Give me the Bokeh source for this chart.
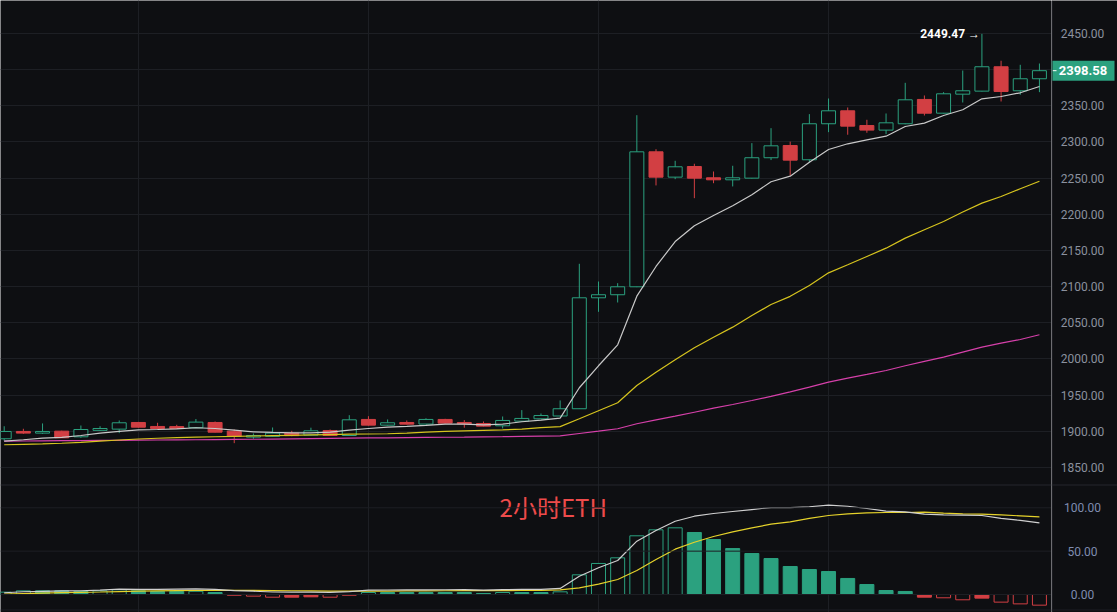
import numpy as np
from bokeh.plotting import figure
from bokeh.layouts import row
from bokeh.models import ColumnDataSource, FixedTicker, Span, Grid, Range1d
from bokeh.core.properties import value
from bokeh.embed import file_html
from bokeh.resources import INLINE

# ---------------- data (2h ETH candles) ----------------
opens = [1889.7, 1899.8, 1897.5, 1900.2, 1892.4, 1901.3, 1903.0, 1912.2, 1906.7, 1906.5,
         1905.0, 1912.2, 1900.2, 1892.0, 1893.0, 1897.5, 1894.7, 1901.0, 1894.2, 1916.4,
         1908.5, 1912.2, 1910.0, 1916.4, 1912.2, 1910.8, 1907.6, 1914.1, 1917.3, 1921.2,
         1931.2, 2084.6, 2088.8, 2099.8, 2286.4, 2251.4, 2266.1, 2250.5, 2247.7, 2250.0,
         2278.2, 2295.1, 2275.4, 2325.2, 2343.1, 2322.8, 2316.4, 2325.2, 2358.8, 2339.8,
         2366.1, 2370.3, 2404.0, 2370.8, 2387.4]
highs = [1907.0, 1903.5, 1910.9, 1900.8, 1908.0, 1907.0, 1915.0, 1913.0, 1911.8, 1909.0,
         1917.0, 1913.6, 1902.5, 1897.0, 1905.3, 1900.7, 1905.0, 1902.5, 1922.3, 1920.9,
         1916.4, 1915.0, 1918.0, 1917.3, 1915.5, 1913.6, 1920.5, 1929.3, 1924.6, 1942.7,
         2131.6, 2107.1, 2104.8, 2337.0, 2290.0, 2274.0, 2269.9, 2259.2, 2267.1, 2298.4,
         2319.1, 2300.5, 2338.5, 2360.1, 2347.7, 2330.7, 2339.4, 2381.8, 2364.3, 2368.9,
         2398.8, 2449.47, 2412.3, 2406.7, 2408.5]
lows = [1887.0, 1896.5, 1896.5, 1890.8, 1891.0, 1900.8, 1897.5, 1905.0, 1903.5, 1903.5,
        1904.5, 1898.5, 1883.6, 1889.7, 1892.5, 1893.2, 1894.2, 1893.8, 1893.8, 1908.0,
        1908.0, 1909.5, 1909.5, 1910.8, 1905.0, 1906.7, 1904.0, 1913.6, 1916.9, 1920.9,
        1930.8, 2065.2, 2078.1, 2099.3, 2239.9, 2248.6, 2222.3, 2243.0, 2238.5, 2249.5,
        2275.0, 2253.5, 2272.0, 2313.6, 2310.0, 2312.7, 2310.8, 2324.5, 2336.6, 2339.3,
        2354.6, 2369.8, 2356.0, 2365.3, 2368.9]
closes = [1899.8, 1897.5, 1899.8, 1891.0, 1902.5, 1903.9, 1911.8, 1905.7, 1903.9, 1904.0,
          1912.7, 1898.8, 1893.0, 1894.2, 1897.5, 1894.0, 1900.7, 1894.2, 1915.9, 1908.5,
          1911.8, 1909.9, 1916.4, 1911.3, 1910.4, 1907.1, 1915.0, 1917.8, 1921.8, 1931.2,
          2084.6, 2088.8, 2099.8, 2286.4, 2251.4, 2265.7, 2250.0, 2247.7, 2250.5, 2278.2,
          2294.7, 2274.9, 2325.2, 2343.1, 2321.9, 2316.4, 2326.5, 2358.3, 2339.8, 2366.6,
          2370.8, 2404.0, 2369.8, 2387.4, 2398.58]

ma_fast = [1886.4, 1888.3, 1890.5, 1891.5, 1894.2, 1897.5, 1899.8, 1902.1, 1902.5, 1903.5,
           1904.9, 1903.9, 1901.6, 1899.3, 1898.4, 1897.9, 1897.9, 1898.8, 1901.6, 1903.9,
           1905.8, 1906.7, 1908.1, 1909.9, 1909.9, 1909.0, 1909.9, 1913.2, 1915.5, 1918.3,
           1960.2, 1990.6, 2019.6, 2086.8, 2127.9, 2162.4, 2184.2, 2198.4, 2211.8, 2227.0,
           2245.0, 2252.7, 2272.0, 2289.6, 2297.5, 2303.0, 2308.0, 2321.4, 2326.0, 2336.6,
           2344.5, 2359.7, 2362.9, 2368.0, 2376.7]
ma_mid = [1881.4, 1882.0, 1882.6, 1883.5, 1884.8, 1886.4, 1888.0, 1889.4, 1890.4, 1891.3,
          1892.0, 1892.5, 1893.0, 1893.5, 1894.0, 1894.5, 1895.0, 1895.5, 1896.0, 1896.3,
          1896.6, 1897.6, 1898.8, 1899.8, 1900.7, 1901.4, 1902.1, 1903.0, 1905.0, 1906.5,
          1917.3, 1928.4, 1939.5, 1963.4, 1981.8, 1998.9, 2015.5, 2030.1, 2044.0, 2060.1,
          2075.3, 2086.6, 2101.6, 2119.1, 2130.2, 2141.7, 2153.2, 2167.1, 2178.6, 2190.1,
          2203.1, 2215.5, 2224.7, 2235.3, 2245.8]
ma_slow = [1886.4, 1886.6, 1886.8, 1887.0, 1887.2, 1887.4, 1887.6, 1887.8, 1888.0, 1888.2,
           1888.3, 1888.5, 1888.8, 1889.0, 1889.3, 1889.6, 1889.9, 1890.2, 1890.5, 1890.8,
           1891.0, 1891.3, 1891.5, 1891.8, 1892.0, 1892.3, 1892.6, 1893.0, 1893.4, 1893.8,
           1897.0, 1900.2, 1903.5, 1910.4, 1915.9, 1920.9, 1926.4, 1932.0, 1937.1, 1942.6,
           1948.2, 1954.5, 1961.0, 1968.0, 1973.5, 1978.6, 1984.1, 1990.6, 1996.6, 2002.5,
           2009.4, 2016.3, 2021.8, 2026.9, 2033.5]

macd_hist = [2.7, 4.2, 4.2, 4.2, 3.5, 4.2, 5.4, 4.2, 3.5, 3.5,
             3.7, 2.3, -0.8, -1.9, -3.1, -3.1, -2.7, -3.1, -0.8, 2.3,
             2.3, 2.3, 2.3, 2.3, 2.3, 1.2, 2.3, 2.3, 2.3, 3.1,
             22.7, 35.8, 42.3, 67.7, 74.6, 76.9, 71.5, 63.4, 53.0, 47.3,
             41.5, 32.3, 28.8, 26.5, 18.5, 11.5, 4.6, 3.5, -3.1, -3.8,
             -6.1, -4.2, -8.8, -10.8, -12.3]
macd_dif = [2.0, 3.2, 3.7, 4.2, 4.3, 5.0, 6.1, 5.9, 5.9, 6.2,
            6.4, 5.9, 4.4, 3.8, 2.9, 2.8, 2.8, 2.4, 3.4, 5.1,
            5.2, 5.3, 5.4, 5.5, 5.6, 5.1, 5.7, 5.8, 5.9, 7.0,
            21.1, 30.8, 39.2, 61.5, 73.8, 84.5, 90.3, 93.4, 95.7, 98.0,
            100.3, 100.3, 101.2, 103.0, 101.8, 99.2, 96.1, 95.4, 92.6, 91.9,
            91.5, 91.1, 87.7, 85.4, 82.7]
macd_dea = [0.6, 1.1, 1.6, 2.1, 2.5, 2.9, 3.4, 3.8, 4.1, 4.4,
            4.6, 4.8, 4.8, 4.7, 4.5, 4.3, 4.1, 3.9, 3.8, 3.9,
            4.0, 4.1, 4.2, 4.3, 4.4, 4.5, 4.5, 4.6, 4.8, 5.4,
            7.7, 11.9, 17.3, 27.7, 40.4, 52.3, 60.3, 66.9, 72.3, 76.9,
            81.1, 83.8, 87.7, 91.1, 93.0, 94.2, 94.6, 94.6, 94.9, 93.8,
            93.0, 92.6, 91.9, 90.7, 89.6]

price_ticks = [1850, 1900, 1950, 2000, 2050, 2100, 2150, 2200, 2250, 2300, 2350, 2400, 2450]
macd_ticks = [0, 50, 100]
time_grid = [7, 19, 31, 43]
title_text = "2小时ETH"

# ---------------- style / layout ----------------
BG = "#0e0f12"
GRID = "#1d1f24"
SEP = "#24272c"
UP = "#2ba17f"
DOWN = "#d23f43"
AXIS_TXT = "#8b919e"
MACD_TXT = "#7f8cb0"

FW, AW, H = 1051, 66, 612      # frame width, price-scale column width, height
SEP_PX = 484                     # pixel row of the panel separator
PY = (1649.5, 2495.6)            # price range over the full height
MY = (-20.76, 685.1)             # MACD range over the full height (lower panel)
X0, X1 = -0.193, 54.63

mpu = H / (MY[1] - MY[0])        # pixels per MACD unit
ppu = H / (PY[1] - PY[0])        # pixels per price unit
sep_m = MY[1] - (SEP_PX + 0.5) / mpu
bot_m = MY[1] - 609.5 / mpu

n = len(closes)
xs = list(range(n))
is_up = [c >= o for o, c in zip(opens, closes)]
src = ColumnDataSource(dict(
    x=xs, h=highs, l=lows,
    top=[max(o, c) for o, c in zip(opens, closes)],
    bottom=[min(o, c) for o, c in zip(opens, closes)],
    color=[UP if u else DOWN for u in is_up],
    fill=[BG if u else DOWN for u in is_up],
))


def base_fig(w, xr, yr):
    f = figure(width=w, height=H, x_range=xr, y_range=yr,
               x_axis_location=None, y_axis_location=None,
               output_backend="svg", toolbar_location=None,
               min_border=0, min_border_left=0, min_border_right=0,
               min_border_top=0, min_border_bottom=0,
               background_fill_color=BG, border_fill_color=BG, outline_line_color=None)
    f.extra_y_ranges = {"macd": Range1d(*MY)}
    return f


def set_grid(fig, dim, ticks):
    grids = fig.xgrid if dim == 0 else fig.ygrid
    if len(grids) == 0:
        fig.add_layout(Grid(dimension=dim, ticker=FixedTicker(ticks=ticks),
                            grid_line_color=GRID))
    else:
        for g in grids:
            g.ticker = FixedTicker(ticks=ticks)
            g.grid_line_color = GRID


def hide_grids(fig):
    for g in list(fig.xgrid) + list(fig.ygrid):
        g.visible = False


# ---------------- chart frame (price + MACD panels) ----------------
p = base_fig(FW, (X0, X1), PY)
set_grid(p, 0, time_grid)
set_grid(p, 1, price_ticks)
for t in macd_ticks:
    p.add_layout(Span(location=t, dimension="width", y_range_name="macd",
                      line_color=GRID, line_width=1))
p.add_layout(Span(location=sep_m, dimension="width", y_range_name="macd",
                  line_color=SEP, line_width=1))
p.add_layout(Span(location=bot_m, dimension="width", y_range_name="macd",
                  line_color=GRID, line_width=1))

# candles
p.segment(x0="x", y0="h", x1="x", y1="l", line_color="color", line_width=1, source=src)
p.vbar(x="x", width=0.73, top="top", bottom="bottom", fill_color="fill",
       line_color="color", line_width=1, source=src)

# moving averages
p.line(xs, ma_slow, line_color="#d640aa", line_width=1.2)
p.line(xs, ma_mid, line_color="#d6c41e", line_width=1.2)
p.line(xs, ma_fast, line_color="#c9c9c9", line_width=1.2)

hi_idx = int(np.argmax(highs))
p.text(x=[hi_idx - 0.1], y=[highs[hi_idx]], text=[f"{highs[hi_idx]:.2f} \u2192"],
       text_align="right", text_baseline="middle", text_color="#ffffff",
       text_font=value("Roboto"), text_font_style="bold", text_font_size="12px")

# MACD histogram + lines
h_color, h_fill = [], []
for i, v in enumerate(macd_hist):
    col = UP if v >= 0 else DOWN
    prev = macd_hist[i - 1] if i > 0 else 0
    hollow = abs(v) > abs(prev)
    h_color.append(col)
    h_fill.append(BG if hollow else col)
hsrc = ColumnDataSource(dict(x=xs, top=macd_hist, color=h_color, fill=h_fill))
p.vbar(x="x", width=0.73, top="top", bottom=0, fill_color="fill", line_color="color",
       line_width=1, source=hsrc, y_range_name="macd")
p.line(xs, macd_dea, line_color="#e5d22b", line_width=1.2, y_range_name="macd")
p.line(xs, macd_dif, line_color="#d0d0d0", line_width=1.2, y_range_name="macd")

p.text(x=[25.84], y=[101.0], text=[title_text], text_align="left",
       text_baseline="alphabetic", text_color="#ee4b4b", y_range_name="macd",
       text_font=value("Noto Sans CJK SC"), text_font_size="24px")

# ---------------- right-hand scale column ----------------
pa = base_fig(AW, (0, AW), p.y_range)
hide_grids(pa)
pa.add_layout(Span(location=0.5, dimension="height", line_color=SEP, line_width=1))
pa.add_layout(Span(location=sep_m, dimension="width", y_range_name="macd",
                   line_color=SEP, line_width=1))
pa.add_layout(Span(location=bot_m, dimension="width", y_range_name="macd",
                   line_color=GRID, line_width=1))
pa.text(x=[31] * len(price_ticks), y=price_ticks, text=[f"{t:.2f}" for t in price_ticks],
        text_align="center", text_baseline="middle", text_color=AXIS_TXT,
        text_font=value("Roboto"), text_font_size="12px")
pa.text(x=[31] * len(macd_ticks), y=macd_ticks, text=[f"{t:.2f}" for t in macd_ticks],
        text_align="center", text_baseline="middle", text_color=MACD_TXT,
        text_font=value("Roboto"), text_font_size="12px", y_range_name="macd")

last = closes[-1]
pa.quad(left=[-1], right=[63], top=[last + 10 / ppu], bottom=[last - 10 / ppu],
        fill_color=UP, line_color=None)
pa.segment(x0=[1], x1=[5], y0=[last], y1=[last], line_color="#ffffff", line_width=1)
pa.text(x=[31.5], y=[last], text=[f"{last:.2f}"], text_align="center",
        text_baseline="middle", text_color="#ffffff", text_font=value("Roboto"),
        text_font_style="bold", text_font_size="13px")

layout = row(p, pa, spacing=0)
open("out.html", "w").write(file_html(layout, INLINE))
